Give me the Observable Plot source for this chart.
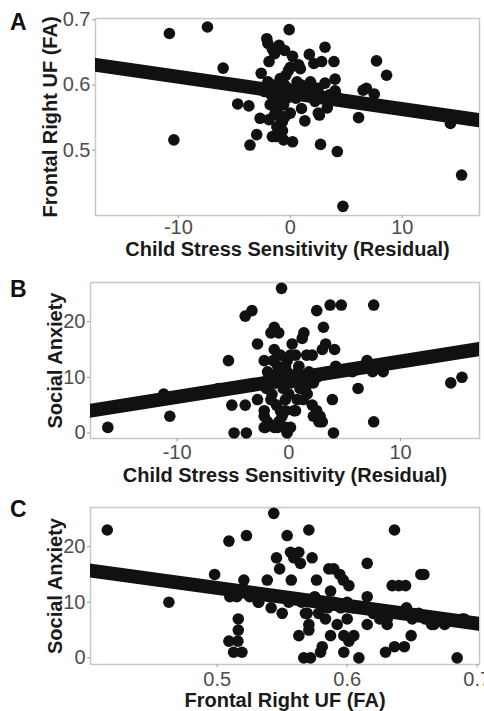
<!DOCTYPE html>
<html><head><meta charset="utf-8">
<script src="https://cdn.jsdelivr.net/npm/d3@7"></script>
<script src="https://cdn.jsdelivr.net/npm/@observablehq/plot@0.6"></script>
<style>
body{margin:0;background:#fff;}
#wrap{position:relative;width:484px;height:711px;overflow:hidden;}
.panel{position:absolute;left:0;}
.letter{position:absolute;font:bold 23px "Liberation Sans",Arial,sans-serif;color:#111;line-height:1;}
svg [aria-label="x-axis tick"], svg [aria-label="y-axis tick"]{stroke:#9a9a9a;}
svg [aria-label="x-axis tick label"], svg [aria-label="y-axis tick label"]{fill:#4d4d4d;}
</style></head><body><div id="wrap"></div>
<script>
// ---------- data ----------
const panelLetters = ["A", "B", "C"];
const xTitles = ["Child Stress Sensitivity (Residual)", "Child Stress Sensitivity (Residual)", "Frontal Right UF (FA)"];
const yTitles = ["Frontal Right UF (FA)", "Social Anxiety", "Social Anxiety"];

const xTicksA = [-10, 0, 10];
const yTicksA = [0.5, 0.6, 0.7];
const xTicksB = [-10, 0, 10];
const yTicksB = [0, 10, 20];
const xTicksC = [0.5, 0.6, 0.7];
const yTicksC = [0, 10, 20];

const xDomainA = [-17.4, 16.9], yDomainA = [0.40, 0.702];
const xDomainB = [-17.75, 17.07], yDomainB = [-1.0, 27.05];
const xDomainC = [0.4025, 0.7018], yDomainC = [-1.2, 27.05];

// fitted regression lines (end points)
const fitA = [[-17.4, 0.631], [16.9, 0.546]];
const fitB = [[-17.75, 4.0], [17.07, 15.1]];
const fitC = [[0.4025, 15.7], [0.7018, 6.1]];

// A: stress sensitivity (x) vs frontal right UF FA (y)
const pointsA = [
 [-10.8,0.679],[-7.4,0.689],[-0.1,0.685],[-6.0,0.626],[-10.4,0.516],[-4.7,0.571],[-3.7,0.568],[-3.6,0.508],[-3.0,0.524],
 [-2.1,0.671],[-2.0,0.664],[-1.9,0.636],[-2.6,0.618],[-2.7,0.549],[-1.9,0.547],[-1.0,0.661],[-0.5,0.653],[-1.6,0.655],[-1.4,0.648],
 [0.2,0.644],[0.0,0.627],[0.9,0.625],[1.7,0.647],[2.1,0.633],[2.8,0.636],[3.1,0.658],[3.9,0.636],[4.0,0.609],[4.0,0.591],[3.5,0.585],
 [7.7,0.637],[8.6,0.615],[6.8,0.595],[7.5,0.586],[6.1,0.550],[14.3,0.541],[15.3,0.462],[4.7,0.414],[4.2,0.498],[2.7,0.509],
 [2.6,0.554],[1.3,0.545],[1.0,0.564],[-1.3,0.521],[-0.6,0.516],[0.2,0.513],[-1.2,0.536],[-0.7,0.544],[0.0,0.557],
 [-0.15,0.623],[0.75,0.631],[1.8,0.605],[0.6,0.605],[3.1,0.603],[4.0,0.590],[6.5,0.592],[2.5,0.557],[-0.45,0.552],[-1.6,0.521],
 [-1.5,0.600],[-1.2,0.595],[-1.0,0.590],[-0.8,0.585],[-0.5,0.600],[-0.3,0.580],[-1.3,0.575],[-1.1,0.565],[-0.6,0.570],[-0.2,0.595],
 [0.3,0.590],[-1.7,0.585],[-2.0,0.605],[-0.9,0.610],[-0.4,0.615],[0.5,0.580],[1.5,0.590],[2.0,0.585],[2.5,0.595],[3.0,0.580],
 [3.5,0.575],[4.3,0.580],[1.0,0.600],[-1.4,0.555],[-0.9,0.550],[2.2,0.575],[1.9,0.600],[-2.3,0.590],[-1.8,0.570],[0.8,0.590],
 [-0.7,0.530],[3.3,0.565]
];

// B: stress sensitivity (x) vs social anxiety (y)
const pointsB = [
 [-16.2,1],[-10.65,3],[-11.2,7],[-6.3,8],[-5.4,13],[-5.1,5],[-3.9,5],[-4.9,0],[-3.8,0],[-3.9,21],[-3.3,22],[-2.8,16],
 [-0.65,26],[-1.6,18],[-1.3,19],[-0.9,18],[0.3,16],[1.2,17],[1.35,18],[2.5,22],[3.1,19],[3.7,23],[4.7,23],[7.6,23],
 [3.3,16],[4.1,15],[3.0,15],[2.1,14],[4.2,12],[7.0,13],[7.8,12],[8.45,11],[7.5,11],[5.7,11],[6.2,8],[7.6,2],[3.9,6],[4.0,0],
 [14.5,9],[15.5,10],[2.2,9],[2.8,3],[3.0,2],[0.6,4],[-0.3,4],[-0.3,1],[-0.15,0],[-1.0,1],[-2.1,1],[-2.2,4],[-2.8,6],[-2.2,3],
 [-1.9,2],[-2.2,13],[-0.3,6],[-0.15,13],[0.15,14],[1.2,10],[1.5,8],[1.65,7],[2.5,4],[-1.0,11],
 [-1.3,15],[-0.75,14],[0.6,14],[1.6,14],[-1.9,11],[-1.0,12],[-0.15,11],[1.6,9],[0.75,6],[2.1,5],[-0.75,4],[0.45,4],[2.2,3],
 [2.7,2],[-2.2,1],[-1.3,1],[-0.45,1],[0.15,1],
 [-1.2,9],[-0.8,10],[-0.5,8],[-1.5,7],[0.2,9],[0.5,10],[-1.8,10],[-0.3,12],[0.8,11],[-1.1,5],[-0.6,3],[1.0,8],[1.3,6],
 [-2.0,8],[0.0,7],[-1.4,13],[-1.6,6],[0.9,12],[-0.9,2],[1.8,11],[2.5,10],[3.5,11]
];

// C: frontal right UF FA (x) vs social anxiety (y)
const pointsC = [
 [0.4154,23],[0.4628,10],[0.498,15],[0.509,21],[0.5225,22],[0.5435,26],[0.5538,22],[0.5705,23],[0.6364,23],[0.5097,11],
 [0.5162,7],[0.5162,5],[0.5159,3],[0.5126,1],[0.519,1],[0.509,3],[0.5205,14],[0.5315,10],[0.5385,14],[0.5415,9],[0.55,8],
 [0.5456,18],[0.548,16],[0.557,14],[0.5589,18],[0.5628,19],[0.5564,19],[0.564,17],[0.573,18],[0.5764,14],[0.5628,4],
 [0.5666,0],[0.5718,0],[0.5795,1],[0.5808,2],[0.5692,8],[0.5705,5],[0.5859,16],[0.5897,16],[0.5943,15],[0.597,14],
 [0.6013,13],[0.6154,17],[0.6154,11],[0.6154,6],[0.609,0],[0.5974,1],[0.6013,3],[0.6051,4],[0.6295,1],[0.6364,2],[0.644,2],
 [0.6492,4],[0.6346,13],[0.6397,13],[0.6449,13],[0.659,15],[0.6567,15],[0.6456,9],[0.655,8],[0.6846,0],[0.6885,7],[0.6782,7],
 [0.6308,6],[0.532,10],[0.5679,8],[0.5705,6],[0.5833,7],[0.5923,6],[0.600,7],[0.6308,7],[0.5872,12],[0.5872,4],[0.5974,4],
 [0.515,11],[0.525,11],[0.54,11],[0.555,10],[0.565,10],[0.575,11],[0.58,10],[0.59,10],[0.595,9],[0.605,9],[0.62,8],
 [0.625,7],[0.64,8],[0.65,7],[0.66,7],[0.665,6],[0.67,7],[0.675,6],[0.69,7],[0.6,10],[0.585,9],[0.578,8],[0.6667,6]
];

// ---------- drawing ----------
const FONT = '"Liberation Sans", Arial, sans-serif';
const fmt = d => String(d);

function panel(o) {
  return Plot.plot({
    width: 484,
    height: o.height,
    marginTop: o.mt, marginBottom: o.mb, marginLeft: o.ml, marginRight: 5,
    style: {fontFamily: FONT, fontSize: "20px", color: "#4d4d4d", background: "transparent", overflow: "visible"},
    x: {domain: o.xDomain},
    y: {domain: o.yDomain},
    marks: [
      Plot.frame({stroke: "#c3cbc3", strokeWidth: 1.5}),
      Plot.axisX({ticks: o.xTicks, tickFormat: fmt, tickSize: 3, tickPadding: o.xPad, label: null}),
      Plot.axisY({ticks: o.yTicks, tickFormat: fmt, tickSize: 3, tickPadding: 2, label: null}),
      Plot.line(o.fit, {x: d => d[0], y: d => d[1], stroke: "#111", strokeWidth: 14, clip: true}),
      Plot.dot(o.points, {x: d => d[0], y: d => d[1], r: 5.8, fill: "#111", stroke: "none"}),
      Plot.text([o.xTitle], {text: d => d, frameAnchor: "bottom", dy: o.xTitleDy, fontSize: 20, fontWeight: "bold", fill: "#1a1a1a", lineAnchor: "middle", textAnchor: "middle"}),
      Plot.text([o.yTitle], {text: d => d, frameAnchor: "left", rotate: -90, dx: o.yTitleDx, fontSize: 20, fontWeight: "bold", fill: "#1a1a1a", lineAnchor: "middle", textAnchor: "middle"})
    ]
  });
}

const specs = [
  {top: 0, height: 262, mt: 18, mb: 47, ml: 95, xPad: 1, xTitleDy: 34, yTitleDx: -45,
   xDomain: xDomainA, yDomain: yDomainA, xTicks: xTicksA, yTicks: yTicksA, fit: fitA, points: pointsA,
   letterTop: 11, letterLeft: 10},
  {top: 262, height: 225, mt: 20, mb: 49, ml: 90, xPad: 3, xTitleDy: 37, yTitleDx: -35,
   xDomain: xDomainB, yDomain: yDomainB, xTicks: xTicksB, yTicks: yTicksB, fit: fitB, points: pointsB,
   letterTop: 278, letterLeft: 10},
  {top: 487, height: 224, mt: 20, mb: 47, ml: 90, xPad: 4, xTitleDy: 36, yTitleDx: -35,
   xDomain: xDomainC, yDomain: yDomainC, xTicks: xTicksC, yTicks: yTicksC, fit: fitC, points: pointsC,
   letterTop: 498, letterLeft: 10}
];

const wrap = document.getElementById("wrap");
specs.forEach((s, i) => {
  const fig = panel({...s, xTitle: xTitles[i], yTitle: yTitles[i]});
  const holder = document.createElement("div");
  holder.className = "panel";
  holder.style.top = s.top + "px";
  holder.appendChild(fig);
  wrap.appendChild(holder);
  const L = document.createElement("div");
  L.className = "letter";
  L.style.top = s.letterTop + "px";
  L.style.left = s.letterLeft + "px";
  L.textContent = panelLetters[i];
  wrap.appendChild(L);
});
</script>
</body></html>
